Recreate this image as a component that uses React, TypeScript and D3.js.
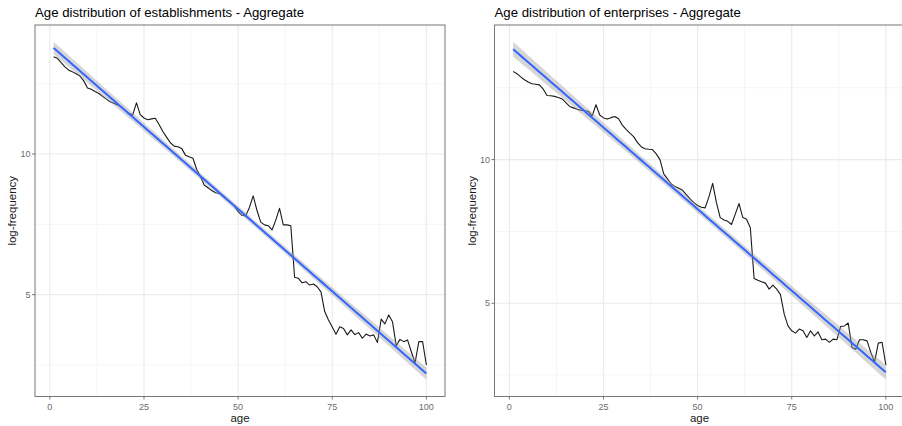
import React, { useMemo } from "react";
import * as d3 from "d3";

const AGES: number[] = Array.from({ length: 100 }, (_, i) => i + 1);

const ESTABLISHMENTS: number[] = [
  13.46, 13.40, 13.25, 13.10, 12.98, 12.92, 12.85, 12.77, 12.60, 12.35,
  12.30, 12.22, 12.15, 12.05, 11.95, 11.86, 11.80, 11.74, 11.68, 11.55,
  11.45, 11.39, 11.82, 11.40, 11.28, 11.22, 11.25, 11.27, 11.05, 10.80,
  10.60, 10.40, 10.28, 10.26, 10.20, 9.96, 9.90, 9.85, 9.45, 9.20,
  8.90, 8.80, 8.70, 8.62, 8.60, 8.50, 8.38, 8.28, 8.15, 7.95,
  7.82, 7.80, 8.10, 8.51, 8.00, 7.58, 7.48, 7.45, 7.30, 7.65,
  8.07, 7.48, 7.48, 7.45, 5.62, 5.58, 5.42, 5.46, 5.34, 5.38,
  5.28, 5.10, 4.40, 4.10, 3.85, 3.59, 3.86, 3.80, 3.57, 3.75,
  3.58, 3.65, 3.45, 3.60, 3.53, 3.57, 3.30, 4.13, 3.96, 4.28,
  4.04, 3.18, 3.41, 3.33, 3.39, 2.97, 2.58, 3.33, 3.33, 2.50,
];

const ENTERPRISES: number[] = [
  13.07, 12.99, 12.88, 12.78, 12.70, 12.64, 12.62, 12.60, 12.45, 12.23,
  12.22, 12.20, 12.16, 12.11, 11.98, 11.85, 11.80, 11.75, 11.72, 11.70,
  11.68, 11.52, 11.91, 11.55, 11.45, 11.41, 11.46, 11.50, 11.42, 11.20,
  11.05, 10.92, 10.80, 10.60, 10.45, 10.38, 10.36, 10.35, 10.20, 10.00,
  9.50, 9.33, 9.15, 9.06, 9.00, 8.93, 8.78, 8.63, 8.50, 8.40,
  8.34, 8.32, 8.70, 9.17, 8.50, 7.98, 7.90, 7.85, 7.74, 8.10,
  8.47, 7.98, 7.92, 7.63, 5.86, 5.80, 5.75, 5.70, 5.49, 5.63,
  5.49, 5.30, 4.62, 4.21, 4.04, 3.96, 4.10, 4.04, 3.81, 4.04,
  3.86, 4.00, 3.73, 3.75, 3.64, 3.75, 3.73, 4.19, 4.21, 4.31,
  3.46, 3.40, 3.73, 3.73, 3.69, 3.29, 2.96, 3.61, 3.64, 2.85,
];

const TITLES: string[] = [
  "Age distribution of establishments - Aggregate",
  "Age distribution of enterprises - Aggregate",
];
const X_BREAKS: number[] = [0, 25, 50, 75, 100];
const X_MINOR: number[] = [12.5, 37.5, 62.5, 87.5];
const Y_BREAKS: number[] = [5, 10];
const Y_MINOR: number[] = [2.5, 7.5, 12.5];

const FONT = "'Liberation Sans', Arial, Helvetica, sans-serif";

type PanelProps = { title: string; values: number[]; left: number };

function Panel({ title, values, left }: PanelProps) {
  const top = 25;
  const bottom = 396.5;
  const width = 410;
  const right = left + width;

  const fit = useMemo(() => {
    const n = AGES.length;
    const xbar = d3.mean(AGES)!;
    const ybar = d3.mean(values)!;
    let sxx = 0, sxy = 0;
    AGES.forEach((x, i) => {
      sxx += (x - xbar) ** 2;
      sxy += (x - xbar) * (values[i] - ybar);
    });
    const b = sxy / sxx;
    const a = ybar - b * xbar;
    let sse = 0;
    AGES.forEach((x, i) => {
      sse += (values[i] - (a + b * x)) ** 2;
    });
    const sigma = Math.sqrt(sse / (n - 2));
    const t = 1.9845;
    const xs = d3.range(80).map((k) => 1 + (k * 99) / 79);
    return xs.map((x) => {
      const y = a + b * x;
      const se = sigma * Math.sqrt(1 / n + (x - xbar) ** 2 / sxx);
      return { x, y, lo: y - t * se, hi: y + t * se };
    });
  }, [values]);

  const xExt = [1, 100];
  const xPad = (xExt[1] - xExt[0]) * 0.05;
  const x = d3.scaleLinear().domain([xExt[0] - xPad, xExt[1] + xPad]).range([left, right]);

  const ymin = Math.min(d3.min(values)!, d3.min(fit, (d) => d.lo)!);
  const ymax = Math.max(d3.max(values)!, d3.max(fit, (d) => d.hi)!);
  const yPad = (ymax - ymin) * 0.05;
  const y = d3.scaleLinear().domain([ymin - yPad, ymax + yPad]).range([bottom, top]);

  const line = d3
    .line<number>()
    .x((_, i) => x(AGES[i]))
    .y((d) => y(d));
  const area = d3
    .area<{ x: number; lo: number; hi: number }>()
    .x((d) => x(d.x))
    .y0((d) => y(d.lo))
    .y1((d) => y(d.hi));
  const fitLine = d3
    .line<{ x: number; y: number }>()
    .x((d) => x(d.x))
    .y((d) => y(d.y));

  const clipId = `clip-${left}`;
  const midX = (left + right) / 2;
  const midY = (top + bottom) / 2;

  return (
    <g>
      <defs>
        <clipPath id={clipId}>
          <rect x={left} y={top} width={width} height={bottom - top} />
        </clipPath>
      </defs>
      <rect x={left} y={top} width={width} height={bottom - top} fill="#ffffff" />
      <g clipPath={`url(#${clipId})`}>
        {X_MINOR.map((v) => (
          <line key={`xm${v}`} x1={x(v)} x2={x(v)} y1={top} y2={bottom} stroke="#F3F3F3" strokeWidth={0.8} />
        ))}
        {Y_MINOR.map((v) => (
          <line key={`ym${v}`} x1={left} x2={right} y1={y(v)} y2={y(v)} stroke="#F3F3F3" strokeWidth={0.8} />
        ))}
        {X_BREAKS.map((v) => (
          <line key={`xM${v}`} x1={x(v)} x2={x(v)} y1={top} y2={bottom} stroke="#EBEBEB" strokeWidth={1.2} />
        ))}
        {Y_BREAKS.map((v) => (
          <line key={`yM${v}`} x1={left} x2={right} y1={y(v)} y2={y(v)} stroke="#EBEBEB" strokeWidth={1.2} />
        ))}
        <path d={line(values) || ""} fill="none" stroke="#1a1a1a" strokeWidth={1.1} strokeLinejoin="round" />
        <path d={area(fit) || ""} fill="#999999" fillOpacity={0.4} stroke="none" />
        <path d={fitLine(fit) || ""} fill="none" stroke="#3366FF" strokeWidth={2} />
      </g>
      <rect x={left} y={top} width={width} height={bottom - top} fill="none" stroke="#777777" strokeWidth={1} />
      {X_BREAKS.map((v) => (
        <g key={`xt${v}`}>
          <line x1={x(v)} x2={x(v)} y1={bottom} y2={bottom + 3} stroke="#555" strokeWidth={0.8} />
          <text x={x(v)} y={bottom + 13} fontSize={9} fill="#6b6b6b" textAnchor="middle" fontFamily={FONT}>
            {v}
          </text>
        </g>
      ))}
      {Y_BREAKS.map((v) => (
        <g key={`yt${v}`}>
          <line x1={left - 3} x2={left} y1={y(v)} y2={y(v)} stroke="#555" strokeWidth={0.8} />
          <text x={left - 4.5} y={y(v) + 3.2} fontSize={9} fill="#6b6b6b" textAnchor="end" fontFamily={FONT}>
            {v}
          </text>
        </g>
      ))}
      <text x={midX} y={422} fontSize={11.5} fill="#1a1a1a" textAnchor="middle" fontFamily={FONT}>
        age
      </text>
      <text
        transform={`translate(${left - 19},${midY}) rotate(-90)`}
        fontSize={11.5}
        fill="#1a1a1a"
        textAnchor="middle"
        fontFamily={FONT}
      >
        log-frequency
      </text>
      <text x={left} y={17} fontSize={13.2} fill="#000" fontFamily={FONT}>
        {title}
      </text>
    </g>
  );
}

export default function App() {
  return (
    <svg
      width={902}
      height={426}
      style={{ position: "absolute", left: 0, top: 0, background: "#fff" }}
    >
      <rect width={902} height={426} fill="#ffffff" />
      <Panel title={TITLES[0]} values={ESTABLISHMENTS} left={35} />
      <Panel title={TITLES[1]} values={ENTERPRISES} left={494.5} />
    </svg>
  );
}
